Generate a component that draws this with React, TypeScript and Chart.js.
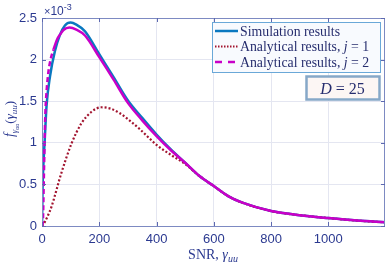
import React, { useEffect, useRef } from "react";
import { Chart, registerables } from "chart.js";
Chart.register(...registerables);

// SNR values (x) and pdf values in units of 1e-3 (y)
const xSim = [0, 2, 5, 9, 16, 28, 45, 63, 80, 100, 120, 150, 200, 250, 300, 350, 400, 450, 500, 550, 600, 650, 700, 800, 900, 1000, 1100, 1200];
const ySim = [0, 0.45, 0.75, 1.0, 1.45, 1.8, 2.1, 2.3, 2.41, 2.445, 2.42, 2.34, 2.065, 1.79, 1.51, 1.3, 1.1, 0.92, 0.76, 0.6, 0.48, 0.36, 0.28, 0.18, 0.13, 0.095, 0.065, 0.044];

const xJ1 = [0, 10, 20, 33, 67, 103, 137, 172, 207, 240, 270, 300, 343, 400, 450, 500, 550, 600, 650, 700, 800, 900, 1000, 1100, 1200];
const yJ1 = [0, 0.05, 0.12, 0.23, 0.63, 0.99, 1.23, 1.37, 1.427, 1.41, 1.36, 1.285, 1.16, 0.975, 0.855, 0.745, 0.6, 0.48, 0.36, 0.28, 0.18, 0.13, 0.095, 0.065, 0.044];

const xJ2 = [0, 3, 6, 9, 12, 16, 22, 30, 40, 55, 63, 75, 96, 120, 150, 200, 250, 300, 350, 400, 450, 500, 550, 600, 650, 700, 800, 900, 1000, 1100, 1200];
const yJ2 = [0, 0.05, 0.5, 1.0, 1.38, 1.62, 1.84, 2.0, 2.12, 2.26, 2.3, 2.356, 2.385, 2.36, 2.29, 2.03, 1.76, 1.48, 1.27, 1.08, 0.91, 0.76, 0.6, 0.48, 0.36, 0.28, 0.18, 0.13, 0.095, 0.065, 0.044];

const xTicks = [0, 200, 400, 600, 800, 1000];
const yTicks = [0, 0.5, 1, 1.5, 2, 2.5];

const legendLabels = ["Simulation results", "Analytical results, ", "Analytical results, "];
const legendJ = ["", "1", "2"];
const dValue = "25";

const SERIF = '"Liberation Serif", "DejaVu Serif", serif';
const SANS = '"Liberation Sans", Arial, sans-serif';
const TICK_COLOR = "#2b3990";
const TEXT_COLOR = "#262d6e";
const AXIS_COLOR = "#7d8ac2";
const BLUE = "#0a78c0";
const RED = "#a2142f";
const MAGENTA = "#c800c8";

type Run = { t: string; font: string; dy?: number };

function runsWidth(ctx: CanvasRenderingContext2D, runs: Run[]) {
  let w = 0;
  for (const r of runs) {
    ctx.font = r.font;
    w += ctx.measureText(r.t).width;
  }
  return w;
}

function drawRuns(ctx: CanvasRenderingContext2D, runs: Run[], x: number, y: number) {
  let cx = x;
  for (const r of runs) {
    ctx.font = r.font;
    ctx.fillText(r.t, cx, y + (r.dy || 0));
    cx += ctx.measureText(r.t).width;
  }
}

const toPts = (xs: number[], ys: number[]) => xs.map((x, i) => ({ x, y: ys[i] }));

export default function App() {
  const ref = useRef<HTMLCanvasElement>(null);

  useEffect(() => {
    document.body.style.margin = "0";
    const canvas = ref.current!;

    const overlay = {
      id: "overlay",
      afterDraw(chart: any) {
        const ctx: CanvasRenderingContext2D = chart.ctx;
        const a = chart.chartArea;
        const xs = chart.scales.x;
        const ys = chart.scales.y;
        ctx.save();
        // box
        ctx.strokeStyle = AXIS_COLOR;
        ctx.lineWidth = 1;
        ctx.strokeRect(Math.round(a.left) + 0.5, Math.round(a.top) + 0.5, Math.round(a.right - a.left) - 1, Math.round(a.bottom - a.top));
        // inward ticks
        ctx.strokeStyle = "#5d69b0";
        ctx.beginPath();
        for (const v of xTicks) {
          const px = Math.round(xs.getPixelForValue(v)) + 0.5;
          ctx.moveTo(px, a.bottom);
          ctx.lineTo(px, a.bottom - 4);
          ctx.moveTo(px, a.top);
          ctx.lineTo(px, a.top + 4);
        }
        for (const v of yTicks) {
          const py = Math.round(ys.getPixelForValue(v)) + 0.5;
          ctx.moveTo(a.left, py);
          ctx.lineTo(a.left + 4, py);
          ctx.moveTo(a.right, py);
          ctx.lineTo(a.right - 4, py);
        }
        ctx.stroke();

        // exponent label
        ctx.fillStyle = TICK_COLOR;
        ctx.textBaseline = "alphabetic";
        ctx.textAlign = "left";
        drawRuns(ctx, [
          { t: "\u00d7", font: `11px ${SANS}` },
          { t: "10", font: `12px ${SANS}` },
          { t: "-3", font: `9px ${SANS}`, dy: -5 },
        ], 44, 15);

        // x title
        ctx.fillStyle = TICK_COLOR;
        const xt: Run[] = [
          { t: "SNR, ", font: `14px ${SERIF}` },
          { t: "\u03b3", font: `italic 14px ${SERIF}` },
          { t: "uu", font: `italic 10px ${SERIF}`, dy: 3 },
        ];
        const xw = runsWidth(ctx, xt);
        drawRuns(ctx, xt, 213 - xw / 2, 259);

        // y title (rotated)
        const yt: Run[] = [
          { t: "f", font: `italic 14px ${SERIF}` },
          { t: "\u03b3", font: `italic 9px ${SERIF}`, dy: 3 },
          { t: "uu", font: `italic 6px ${SERIF}`, dy: 5 },
          { t: "(", font: `13px ${SERIF}` },
          { t: "\u03b3", font: `italic 13px ${SERIF}` },
          { t: "uu", font: `italic 9px ${SERIF}`, dy: 3 },
          { t: ")", font: `13px ${SERIF}` },
        ];
        const yw = runsWidth(ctx, yt);
        ctx.save();
        ctx.translate(14, 119);
        ctx.rotate(-Math.PI / 2);
        drawRuns(ctx, yt, -yw / 2, 0);
        ctx.restore();

        // legend
        const lx = 212, ly = 22, lw = 168, lh = 50;
        ctx.fillStyle = "#f8fafe";
        ctx.fillRect(lx, ly, lw, lh);
        ctx.strokeStyle = "#6aa8d8";
        ctx.lineWidth = 1;
        ctx.strokeRect(lx + 0.5, ly + 0.5, lw, lh);
        const rows = [31, 46.5, 62];
        const styles = [
          { c: BLUE, w: 2.5, d: [] as number[] },
          { c: RED, w: 2, d: [1.5, 1.5] },
          { c: MAGENTA, w: 2.5, d: [7, 6] },
        ];
        rows.forEach((ry, i) => {
          ctx.beginPath();
          ctx.strokeStyle = styles[i].c;
          ctx.lineWidth = styles[i].w;
          ctx.setLineDash(styles[i].d);
          ctx.moveTo(215, ry);
          ctx.lineTo(238, ry);
          ctx.stroke();
          ctx.setLineDash([]);
          ctx.fillStyle = TEXT_COLOR;
          const runs: Run[] = [{ t: legendLabels[i], font: `13.8px ${SERIF}` }];
          if (legendJ[i]) {
            runs.push({ t: "j", font: `italic 13.8px ${SERIF}` });
            runs.push({ t: " = " + legendJ[i], font: `13.8px ${SERIF}` });
          }
          drawRuns(ctx, runs, 240, ry + 4.5);
        });

        // D box
        const dx = 306, dy = 76, dw = 73, dh = 23;
        ctx.fillStyle = "#fcf6f4";
        ctx.fillRect(dx, dy, dw, dh);
        ctx.strokeStyle = "#86a8c8";
        ctx.strokeRect(dx + 0.5, dy + 0.5, dw, dh);
        ctx.fillStyle = TEXT_COLOR;
        const dr: Run[] = [
          { t: "D", font: `italic 16px ${SERIF}` },
          { t: " = " + dValue, font: `16px ${SERIF}` },
        ];
        const dwid = runsWidth(ctx, dr);
        drawRuns(ctx, dr, dx + dw / 2 - dwid / 2, 93.5);

        ctx.restore();
      },
    };

    const chart = new Chart(canvas, {
      type: "line",
      data: {
        datasets: [
          {
            label: "Simulation results",
            data: toPts(xSim, ySim),
            borderColor: BLUE,
            borderWidth: 2.5,
            pointRadius: 0,
            cubicInterpolationMode: "monotone",
            order: 3,
          },
          {
            label: "Analytical results, j = 1",
            data: toPts(xJ1, yJ1),
            borderColor: RED,
            borderWidth: 2.2,
            borderDash: [2, 2],
            pointRadius: 0,
            cubicInterpolationMode: "monotone",
            order: 2,
          },
          {
            label: "Analytical results, j = 2",
            data: toPts(xJ2, yJ2),
            borderColor: MAGENTA,
            borderWidth: 2.5,
            pointRadius: 0,
            cubicInterpolationMode: "monotone",
            segment: {
              borderDash: (c: any) => (c.p0.parsed.x < 40 ? [5, 3] : []),
            },
            order: 1,
          },
        ],
      },
      options: {
        responsive: false,
        animation: false,
        events: [],
        layout: { padding: { left: 0, top: 18, right: 3, bottom: 0 } },
        plugins: { legend: { display: false }, tooltip: { enabled: false } },
        scales: {
          x: {
            type: "linear",
            min: 0,
            max: 1198,
            afterBuildTicks: (s: any) => {
              s.ticks = xTicks.map((v) => ({ value: v }));
            },
            afterFit: (s: any) => {
              s.height = 37;
            },
            ticks: {
              font: { family: SANS, size: 13 },
              color: TICK_COLOR,
              padding: 6,
              maxRotation: 0,
              callback: (v: any) => String(v),
            },
            grid: { color: "#e4e6f1", drawTicks: false },
            border: { display: false },
          },
          y: {
            type: "linear",
            min: 0,
            max: 2.5,
            afterBuildTicks: (s: any) => {
              s.ticks = yTicks.map((v) => ({ value: v }));
            },
            afterFit: (s: any) => {
              s.width = 42;
            },
            ticks: {
              font: { family: SANS, size: 13 },
              color: TICK_COLOR,
              padding: 5,
              callback: (v: any) => String(v),
            },
            grid: { color: "#e4e6f1", drawTicks: false },
            border: { display: false },
          },
        },
      },
      plugins: [overlay],
    } as any);
    return () => chart.destroy();
  }, []);

  return (
    <div style={{ width: 388, height: 263 }}>
      <canvas ref={ref} width={388} height={263} style={{ display: "block" }} />
    </div>
  );
}
